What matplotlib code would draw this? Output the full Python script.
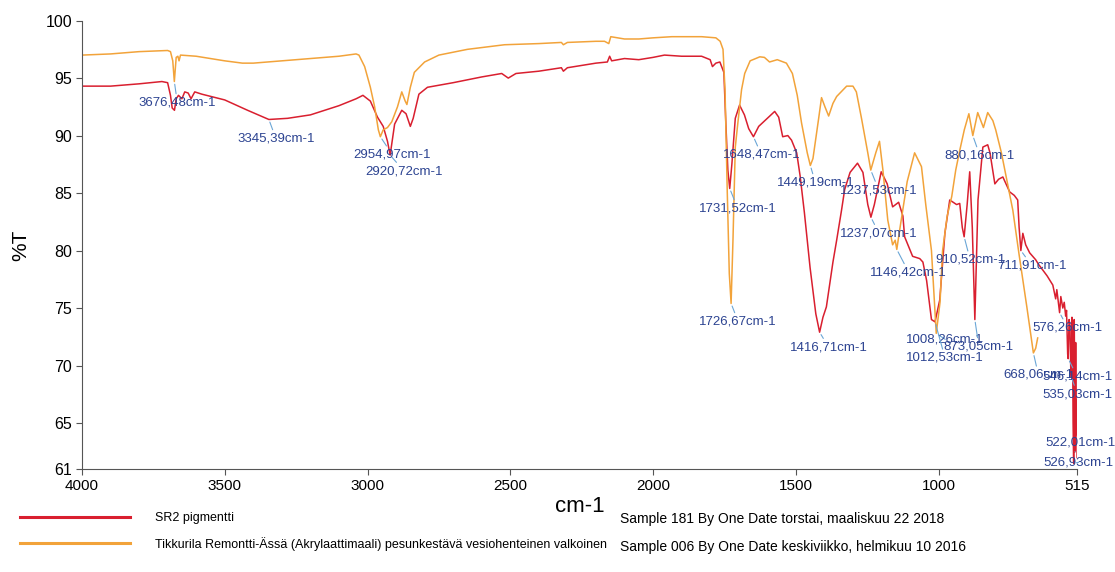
import numpy as np
import matplotlib
matplotlib.use("Agg")
import matplotlib.pyplot as plt

# --- data -------------------------------------------------------------------
sr2_wn = [4000, 3900, 3800, 3720, 3700, 3690, 3684, 3676, 3670, 3662, 3650, 3640,
          3628, 3618, 3605, 3580, 3500, 3420, 3345.39, 3280, 3200, 3100, 3040, 3016,
          2990, 2965, 2945, 2930, 2920.72, 2905, 2880, 2865, 2850, 2840, 2820, 2790,
          2700, 2600, 2530, 2507, 2480, 2400, 2321, 2314, 2300, 2200, 2160, 2152,
          2145, 2100, 2050, 2000, 1960, 1900, 1830, 1800, 1792, 1780, 1766, 1752,
          1745, 1738, 1731.52, 1724, 1712, 1697, 1680, 1665, 1648.47, 1630, 1600,
          1574, 1560, 1546, 1528, 1515, 1497, 1485, 1470, 1450, 1430, 1416.71, 1405,
          1393, 1370, 1357, 1340, 1329, 1310, 1284, 1265, 1248, 1237.07, 1225, 1201,
          1180, 1161, 1140, 1125, 1119, 1091, 1066, 1055, 1042, 1025, 1012.53, 996,
          978, 961, 937, 926, 917, 910.52, 900, 891, 882, 873.05, 862, 845, 828, 820,
          803, 790, 775, 751, 735, 723, 718, 711.91, 705, 695, 681, 660, 650, 635,
          620, 600, 590, 586, 576.26, 572, 565, 560, 555, 552, 548, 546.14, 543, 540,
          537, 535.03, 533, 531, 529, 526.93, 525, 523, 522.01, 520, 518, 516, 515]
sr2_t = [94.3, 94.3, 94.5, 94.7, 94.6, 93.5, 92.4, 92.2, 93.2, 93.5, 93.2, 93.8,
         93.7, 93.2, 93.8, 93.6, 93.1, 92.2, 91.4, 91.5, 91.8, 92.6, 93.2, 93.5,
         93.0, 91.6, 90.8, 89.5, 88.3, 91.0, 92.2, 91.9, 90.8, 91.5, 93.6, 94.2,
         94.6, 95.1, 95.4, 95.0, 95.4, 95.6, 95.9, 95.6, 95.9, 96.3, 96.4, 96.9,
         96.5, 96.7, 96.6, 96.8, 97.0, 96.9, 96.9, 96.6, 96.0, 96.3, 96.4, 95.5,
         91.0, 87.0, 85.4, 87.5, 91.5, 92.65, 91.8, 90.6, 89.9, 90.8, 91.5,
         92.1, 91.6, 89.9, 90.0, 89.6, 88.5, 86.5, 83.3, 78.5, 74.5, 72.9, 74.2,
         75.1, 79.0, 80.9, 83.5, 85.3, 86.8, 87.6, 86.8, 84.0, 82.9, 84.0, 86.85,
         85.8, 83.8, 84.2, 83.0, 81.2, 79.5, 79.3, 79.0, 77.4, 74.0, 73.8, 75.7,
         81.5, 84.4, 84.0, 84.1, 82.0, 81.2, 84.0, 86.85, 82.0, 74.0, 84.4, 89.0, 89.2, 88.5,
         85.8, 86.2, 86.4, 85.1, 84.8, 84.4, 82.0, 80.0, 81.5, 80.5, 79.8, 79.2, 78.8, 78.3,
         77.8, 77.0, 75.8, 76.6, 74.6, 76.0, 75.0, 75.5, 74.3, 74.8, 71.0, 70.6, 74.0, 73.5,
         69.5, 69.0, 74.2, 73.0, 65.0, 61.5, 74.0, 66.0, 62.5, 72.0, 64.0, 67.0, 62.0]

tik_wn = [4000, 3900, 3800, 3700, 3690, 3682, 3676.48, 3670, 3664, 3660, 3655, 3600,
          3500, 3438, 3400, 3300, 3200, 3100, 3040, 3030, 3010, 2990, 2975, 2962,
          2954.97, 2945, 2930, 2915, 2895, 2880, 2868, 2862, 2850, 2836, 2800, 2750,
          2650, 2520, 2400, 2321, 2314, 2300, 2200, 2170, 2155, 2148, 2100, 2050,
          2000, 1934, 1830, 1780, 1765, 1755, 1748, 1740, 1733, 1726.67, 1720, 1712,
          1703, 1690, 1679, 1660, 1626, 1610, 1592, 1565, 1533, 1512, 1495, 1480,
          1460, 1449.19, 1440, 1420, 1410, 1398, 1385, 1370, 1357, 1322, 1300, 1288,
          1270, 1248, 1237.53, 1220, 1207, 1195, 1178, 1161, 1152, 1146.42, 1135,
          1110, 1084, 1060, 1045, 1025, 1008.26, 995, 986, 970, 954, 940, 926, 910,
          894, 880.16, 863, 843, 828, 810, 800, 780, 768, 740, 719, 691, 668.06,
          660, 653]
tik_t = [97.0, 97.1, 97.3, 97.4, 97.3, 96.5, 94.7, 96.8, 96.9, 96.5, 97.0, 96.9,
         96.5, 96.3, 96.3, 96.5, 96.7, 96.9, 97.1, 97.0, 96.0, 94.2, 92.5, 90.5,
         89.9, 90.5, 90.7, 91.2, 92.5, 93.8, 93.0, 92.7, 94.2, 95.5, 96.4, 97.0,
         97.5, 97.9, 98.0, 98.1, 97.9, 98.1, 98.2, 98.2, 98.0, 98.6, 98.4, 98.4,
         98.5, 98.6, 98.6, 98.5, 98.2, 97.5, 94.0, 85.0, 78.0, 75.4, 81.0, 89.0,
         91.1, 94.0, 95.4, 96.5, 96.85, 96.8, 96.4, 96.6, 96.3, 95.4, 93.5, 91.1,
         88.5, 87.4, 88.0, 91.5, 93.3, 92.5, 91.7, 92.8, 93.4, 94.3, 94.3, 93.8,
         91.5, 88.5, 87.0, 88.5, 89.5, 87.0, 82.65, 80.5, 80.9, 80.1, 82.0,
         86.0, 88.5, 87.3, 84.0, 80.0, 72.8, 75.5, 80.0, 83.0, 84.7, 87.0, 88.7, 90.5,
         91.9, 90.0, 92.0, 90.7, 92.0, 91.3, 90.5, 88.5, 87.0, 83.5, 79.8, 75.1, 71.1,
         71.5, 72.4]

# peak labels: (wavenumber, text, series)
peak_wn = [3676.48, 3345.39, 2954.97, 2920.72, 1731.52, 1648.47, 1449.19, 1237.53,
           1237.07, 1146.42, 910.52, 880.16, 711.91, 1726.67, 1416.71, 1008.26,
           873.05, 1012.53, 576.26, 668.06, 546.14, 535.03, 522.01, 526.93]
peak_series = ["tik", "sr2", "tik", "sr2", "sr2", "sr2", "tik", "tik",
               "sr2", "tik", "sr2", "tik", "sr2", "tik", "sr2", "tik",
               "sr2", "sr2", "sr2", "tik", "sr2", "sr2", "sr2", "sr2"]
# label offsets from the peak, in pixels (layout only)
peak_off = [(3, -21), (7, -19), (12, -18), (14, -16), (8, -20), (8, -18), (5, -17), (8, -20),
            (8, -16), (12, -23), (6, -23), (7, -20), (11, -15), (7, -18), (9, -15), (9, -6),
            (4, -27), (10, -36), (8, -15), (5, -22), (9, -18), (6, -17), (5, 9), (5, 1)]

xticks = [4000, 3500, 3000, 2500, 2000, 1500, 1000, 515]
yticks = [100, 95, 90, 85, 80, 75, 70, 65, 61]

sr2_name = "SR2 pigmentti"
tik_name = "Tikkurila Remontti-Ässä (Akrylaattimaali) pesunkestävä vesiohenteinen valkoinen"
sr2_info = "Sample 181 By One Date torstai, maaliskuu 22 2018"
tik_info = "Sample 006 By One Date keskiviikko, helmikuu 10 2016"

RED = "#d91f2f"
ORANGE = "#f2a33a"
LBL = "#2c4391"
LEAD = "#6aa6d6"
SANS = ["Liberation Sans", "DejaVu Sans"]

fig = plt.figure(figsize=(11.15, 5.72), dpi=100)
ax = fig.add_axes([0.0735, 0.18, 0.8925, 0.784])

l_sr2, = ax.plot(sr2_wn, sr2_t, color=RED, lw=1.1)
l_tik, = ax.plot(tik_wn, tik_t, color=ORANGE, lw=1.1)

ax.set_xlim(4000, 515)
ax.set_ylim(61, 100)
ax.set_xticks(xticks)
ax.set_yticks(yticks)
ax.set_xticklabels([str(v) for v in xticks], family=SANS, fontsize=11)
ax.set_yticklabels([str(v) for v in yticks], family=SANS, fontsize=11.5)
for s in ["top", "right"]:
    ax.spines[s].set_visible(False)
for s in ["left", "bottom"]:
    ax.spines[s].set_color("#555555")
ax.tick_params(direction="out", length=4, color="#555555", pad=3)
ax.set_xlabel("cm-1", family=SANS, fontsize=16, labelpad=2)
ax.set_ylabel("%T", family=SANS, fontsize=15, labelpad=11)

curves = {"sr2": (sr2_wn, sr2_t), "tik": (tik_wn, tik_t)}
for w, s, off in zip(peak_wn, peak_series, peak_off):
    xs, ys = curves[s]
    t = np.interp(w, xs[::-1], ys[::-1])
    ax.annotate(f"{w:.2f}".replace(".", ",") + "cm-1", xy=(w, t), xytext=off,
                textcoords="offset pixels", ha="center", va="center",
                family=SANS, fontsize=9.5, color=LBL,
                arrowprops=dict(arrowstyle="-", color=LEAD, lw=0.8,
                                shrinkA=0, shrinkB=2))

leg = fig.legend([l_sr2, l_tik], [sr2_name, tik_name], loc="upper left",
                 bbox_to_anchor=(0.008, 0.124), frameon=False, handlelength=8.8,
                 handletextpad=2.0, labelspacing=1.0, prop={"family": SANS, "size": 9})
for h in leg.get_lines():
    h.set_linewidth(2.2)
fig.text(0.556, 0.093, sr2_info, family=SANS, fontsize=10, va="center")
fig.text(0.556, 0.044, tik_info, family=SANS, fontsize=10, va="center")

fig.savefig("out.png", dpi=100)
